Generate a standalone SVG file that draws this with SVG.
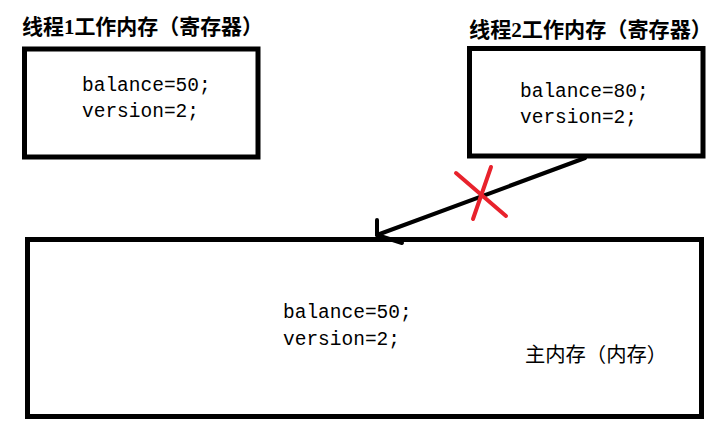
<svg xmlns="http://www.w3.org/2000/svg" width="725" height="436" viewBox="0 0 725 436">
<style>
.box{fill:none;stroke:#000;stroke-width:5}
.code{font-family:"Liberation Mono","DejaVu Sans Mono",monospace;font-size:19.5px;fill:#000}
.title{font-family:"Liberation Serif","Noto Sans CJK SC",serif;font-size:21px;font-weight:bold;fill:#000}
.label{font-family:"Liberation Serif","Noto Sans CJK SC",serif;font-size:20px;fill:#000}
.conn{fill:none;stroke:#000;stroke-width:4;stroke-linecap:round;stroke-linejoin:round}
.cross{stroke:#e8222c;stroke-width:4;stroke-linecap:round}
</style>
<rect width="725" height="436" fill="#fff"/>
<g id="thread1">
<text class="title" x="22" y="34" textLength="241" lengthAdjust="spacingAndGlyphs">线程1工作内存（寄存器）</text>
<rect class="box" x="24.5" y="49" width="233.5" height="108"/>
<text class="code" x="82" y="91">balance=50;</text>
<text class="code" x="82" y="117">version=2;</text>
</g>
<g id="thread2">
<text class="title" x="469" y="37" textLength="243" lengthAdjust="spacingAndGlyphs">线程2工作内存（寄存器）</text>
<rect class="box" x="469.5" y="48.5" width="233.5" height="107.5"/>
<text class="code" x="520" y="97">balance=80;</text>
<text class="code" x="520" y="123">version=2;</text>
</g>
<g id="main-memory">
<rect class="box" x="27.5" y="239.5" width="674" height="177"/>
<text class="code" x="283" y="318">balance=50;</text>
<text class="code" x="283" y="345">version=2;</text>
<text class="label" x="525" y="362" textLength="142" lengthAdjust="spacingAndGlyphs">主内存（内存）</text>
</g>
<g id="connectors">
<line class="conn" x1="585" y1="158" x2="377" y2="235"/>
<polyline class="conn" points="377,220 377,235 402,243"/>
<line class="cross" x1="456" y1="173" x2="506" y2="216"/>
<line class="cross" x1="491" y1="167" x2="473" y2="219"/>
</g>
</svg>
